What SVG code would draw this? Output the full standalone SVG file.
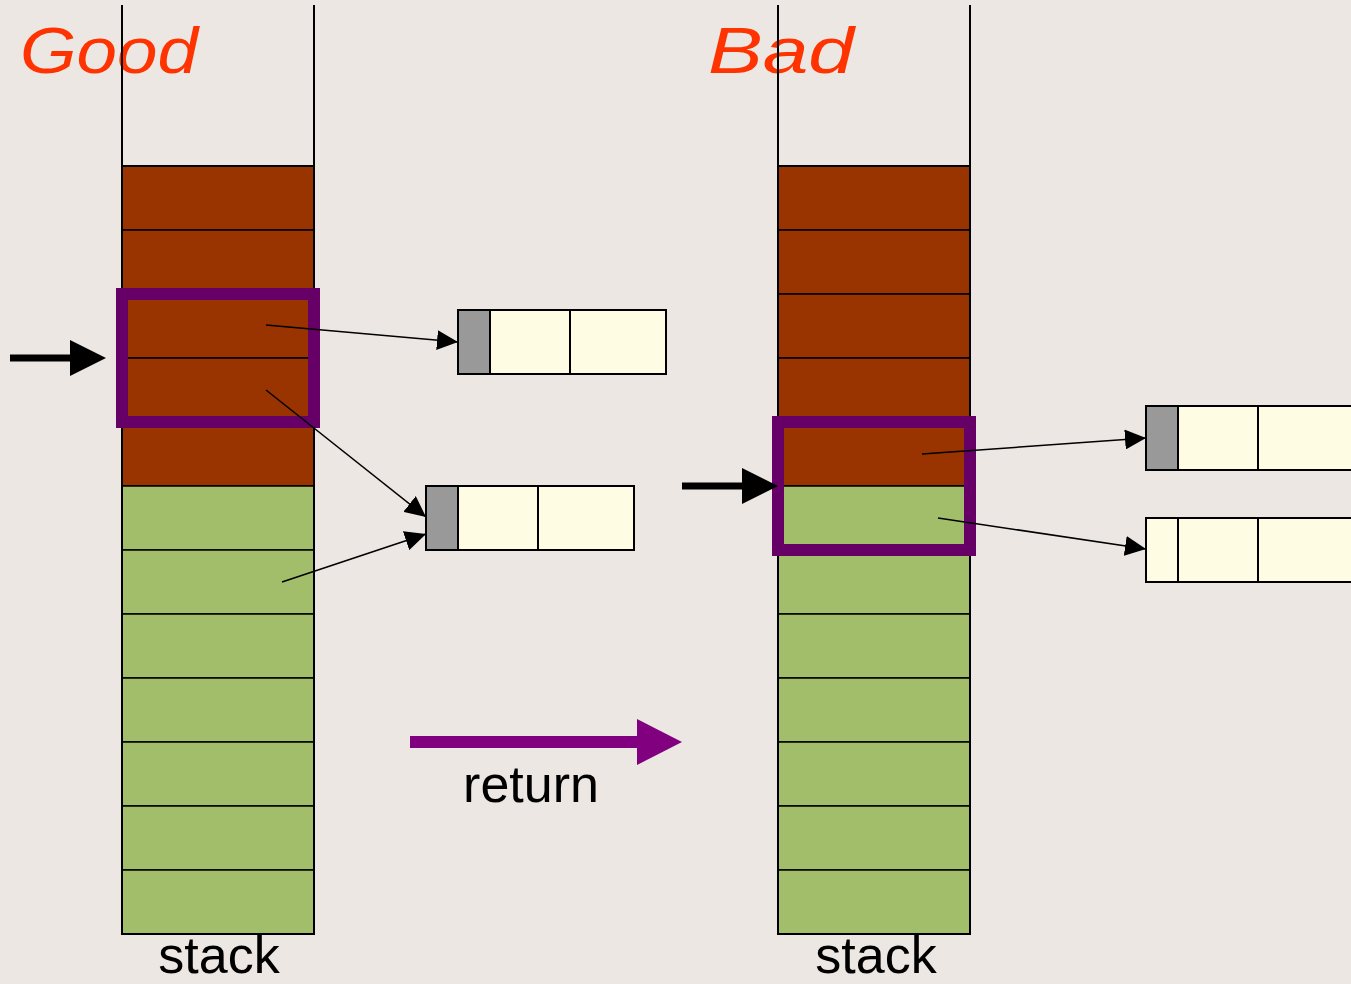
<svg xmlns="http://www.w3.org/2000/svg" width="1351" height="984" viewBox="0 0 1351 984">
  <style>
    .bg { fill: #ECE7E3; }
    .rail { stroke: #000; stroke-width: 2; }
    .brown { fill: #993300; stroke: #000; stroke-width: 1.5; }
    .green { fill: #A3BE6A; stroke: #000; stroke-width: 1.5; }
    .outline { fill: none; stroke: #000; stroke-width: 2; }
    .frame { fill: none; stroke: #660066; stroke-width: 12; }
    .cell { fill: #FEFCE2; stroke: #000; stroke-width: 2; }
    .hdr { fill: #999999; stroke: #000; stroke-width: 2; }
    .ptr { stroke: #000; stroke-width: 1.5; fill: none; marker-end: url(#tip); }
    .title { font-family: "Liberation Sans", Arial, sans-serif; font-style: italic; font-size: 64px; fill: #FF3300; }
    .label { font-family: "Liberation Sans", Arial, sans-serif; font-size: 52px; fill: #000; text-anchor: middle; }
  </style>
  <defs>
    <marker id="tip" markerUnits="userSpaceOnUse" markerWidth="21" markerHeight="20" refX="21" refY="10" orient="auto">
      <path d="M0,0 L21,10 L0,20 z" fill="#000"/>
    </marker>
  </defs>

  <rect class="bg" x="0" y="0" width="1351" height="984"/>

  <!-- titles -->
  <g id="title-good"><text class="title" x="20" y="73" textLength="178" lengthAdjust="spacingAndGlyphs">Good</text></g>
  <g id="title-bad"><text class="title" x="708" y="73" textLength="146" lengthAdjust="spacingAndGlyphs">Bad</text></g>

  <!-- left stack -->
  <g id="stack-good">
    <line class="rail" x1="122" y1="5" x2="122" y2="166"/>
    <line class="rail" x1="314" y1="5" x2="314" y2="166"/>
    <rect class="brown" x="122" y="166" width="192" height="64"/>
    <rect class="brown" x="122" y="230" width="192" height="64"/>
    <rect class="brown" x="122" y="294" width="192" height="64"/>
    <rect class="brown" x="122" y="358" width="192" height="64"/>
    <rect class="brown" x="122" y="422" width="192" height="64"/>
    <rect class="green" x="122" y="486" width="192" height="64"/>
    <rect class="green" x="122" y="550" width="192" height="64"/>
    <rect class="green" x="122" y="614" width="192" height="64"/>
    <rect class="green" x="122" y="678" width="192" height="64"/>
    <rect class="green" x="122" y="742" width="192" height="64"/>
    <rect class="green" x="122" y="806" width="192" height="64"/>
    <rect class="green" x="122" y="870" width="192" height="64"/>
    <rect class="outline" x="122" y="166" width="192" height="768"/>
    <text class="label" x="219" y="973">stack</text>
  </g>

  <!-- right stack -->
  <g id="stack-bad">
    <line class="rail" x1="778" y1="5" x2="778" y2="166"/>
    <line class="rail" x1="970" y1="5" x2="970" y2="166"/>
    <rect class="brown" x="778" y="166" width="192" height="64"/>
    <rect class="brown" x="778" y="230" width="192" height="64"/>
    <rect class="brown" x="778" y="294" width="192" height="64"/>
    <rect class="brown" x="778" y="358" width="192" height="64"/>
    <rect class="brown" x="778" y="422" width="192" height="64"/>
    <rect class="green" x="778" y="486" width="192" height="64"/>
    <rect class="green" x="778" y="550" width="192" height="64"/>
    <rect class="green" x="778" y="614" width="192" height="64"/>
    <rect class="green" x="778" y="678" width="192" height="64"/>
    <rect class="green" x="778" y="742" width="192" height="64"/>
    <rect class="green" x="778" y="806" width="192" height="64"/>
    <rect class="green" x="778" y="870" width="192" height="64"/>
    <rect class="outline" x="778" y="166" width="192" height="768"/>
    <text class="label" x="876" y="973">stack</text>
  </g>

  <!-- current frames -->
  <g id="frame-good"><rect class="frame" x="122" y="294" width="192" height="128"/></g>
  <g id="frame-bad"><rect class="frame" x="778" y="422" width="192" height="128"/></g>

  <!-- heap objects -->
  <g id="obj-good-1">
    <rect class="cell" x="458" y="310" width="208" height="64"/>
    <rect class="hdr" x="458" y="310" width="32" height="64"/>
    <line class="outline" x1="570" y1="310" x2="570" y2="374"/>
  </g>
  <g id="obj-good-2">
    <rect class="cell" x="426" y="486" width="208" height="64"/>
    <rect class="hdr" x="426" y="486" width="32" height="64"/>
    <line class="outline" x1="538" y1="486" x2="538" y2="550"/>
  </g>
  <g id="obj-bad-1">
    <rect class="cell" x="1146" y="406" width="210" height="64"/>
    <rect class="hdr" x="1146" y="406" width="32" height="64"/>
    <line class="outline" x1="1258" y1="406" x2="1258" y2="470"/>
  </g>
  <g id="obj-bad-2">
    <rect class="cell" x="1146" y="518" width="210" height="64"/>
    <line class="outline" x1="1178" y1="518" x2="1178" y2="582"/>
    <line class="outline" x1="1258" y1="518" x2="1258" y2="582"/>
  </g>

  <!-- return label -->
  <g id="return-label"><text class="label" x="531" y="802">return</text></g>

  <!-- connectors -->
  <g id="connectors">
    <line class="ptr" x1="266" y1="325" x2="458" y2="342"/>
    <line class="ptr" x1="266" y1="390" x2="426" y2="517"/>
    <line class="ptr" x1="282" y1="582" x2="426" y2="534"/>
    <line class="ptr" x1="922" y1="454" x2="1146" y2="438"/>
    <line class="ptr" x1="938" y1="518" x2="1146" y2="549"/>
    <!-- frame pointers -->
    <rect x="10" y="354.5" width="61" height="7" fill="#000"/>
    <polygon points="70,340 106,358 70,376" fill="#000"/>
    <rect x="682" y="482.5" width="61" height="7" fill="#000"/>
    <polygon points="742,468 778,486 742,504" fill="#000"/>
    <!-- return arrow -->
    <rect x="410" y="736" width="228" height="12" fill="#800080"/>
    <polygon points="637,719 682,742 637,765" fill="#800080"/>
  </g>
</svg>
